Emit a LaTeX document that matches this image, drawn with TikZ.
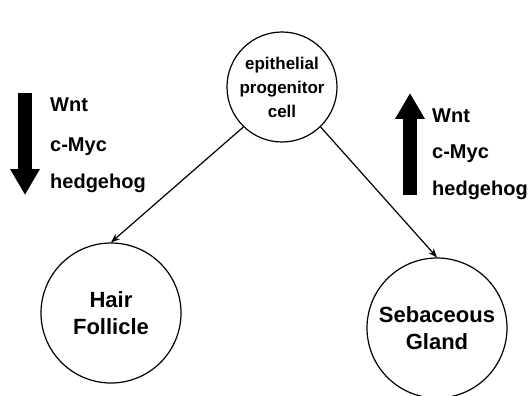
\documentclass[tikz,border=0pt]{standalone}
\usepackage{fontspec}
\setmainfont{Liberation Sans}
\usetikzlibrary{arrows.meta}
\tikzset{
    every node/.style={inner sep=0pt, align=center}
}
\tikzset{
    cellstyle/.style={circle, draw, line width=1.2pt},
    gene/.style={anchor=base west, font=\bfseries\fontsize{20}{25}\selectfont},
    fatarrow/.style={line width=14pt, -{Triangle[length=26pt,width=28pt]}},
    lineage/.style={line width=1.2pt, -{Stealth[length=9pt,width=7pt]}}
}

\begin{document}
\begin{tikzpicture}[x=1pt,y=-1pt]
	\useasboundingbox (0,0) rectangle (528,396);
	\node (cell) [cellstyle, minimum size=110pt,
		font=\bfseries\fontsize{17}{24}\selectfont] at (282,87)
		{epithelial\\progenitor\\cell};
	\node (hair) [cellstyle, minimum size=140pt,
		font=\bfseries\fontsize{22}{27}\selectfont] at (111,313) {Hair\\Follicle};
	\node (gland) [cellstyle, minimum size=140pt,
		font=\bfseries\fontsize{22}{27}\selectfont] at (437,328) {Sebaceous\\Gland};

	\draw[lineage] (cell.226) -- (hair.north);
	\draw[lineage] (cell.-46) -- (gland.north);

	% down regulated in hair follicle
	\coordinate (downtop) at (25,93);
	\coordinate (downtip) at (25,195);
	\draw[fatarrow] (downtop) -- (downtip);
	\node (wnt1) [gene] at (50,112) {Wnt};
	\node (myc1) [gene] at (50,151) {c-Myc};
	\node (hh1) [gene] at (50,188) {hedgehog};

	% up regulated in sebaceous gland
	\coordinate (upbottom) at (410,195);
	\coordinate (uptip) at (410,93);
	\draw[fatarrow] (upbottom) -- (uptip);
	\node (wnt2) [gene] at (432,122) {Wnt};
	\node (myc2) [gene] at (432,158) {c-Myc};
	\node (hh2) [gene] at (432,195) {hedgehog};
\end{tikzpicture}
\end{document}
